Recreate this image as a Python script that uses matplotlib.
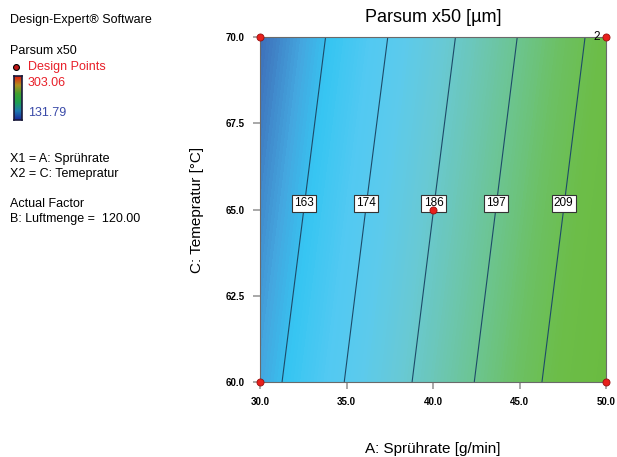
import numpy as np
import matplotlib
matplotlib.use("Agg")
import matplotlib.pyplot as plt
from matplotlib.colors import LinearSegmentedColormap

plt.rcParams["font.family"] = ["Liberation Sans", "DejaVu Sans"]

# Sprührate (x), Temperatur (y), Parsum x50 response
x_vals = [30.0, 35.0, 40.0, 45.0, 50.0]
y_vals = [60.0, 65.0, 70.0]
z_vals = [
    [159.1, 174.4, 189.7, 205.0, 220.4],   # 60 °C
    [155.2, 170.6, 185.9, 201.2, 216.5],   # 65 °C
    [151.4, 166.7, 182.0, 197.4, 212.7],   # 70 °C
]
levels = [163, 174, 186, 197, 209]
pts_x = [30, 30, 50, 50, 40]
pts_y = [60, 70, 60, 70, 65]
z_min, z_max = 131.79, 303.06

# colour stops (response -> colour)
stops = [(151, "#3d6bb6"), (159, "#44a6df"), (164, "#36c5f2"), (171, "#52c9f2"),
         (177, "#5ccaec"), (184, "#68c9d5"), (191, "#6cc6b2"), (198, "#6cc48c"),
         (205, "#6cc062"), (212, "#6cbd48"), (221, "#6abb40")]
lo, hi = stops[0][0], stops[-1][0]
cmap = LinearSegmentedColormap.from_list(
    "dx", [((v - lo) / (hi - lo), c) for v, c in stops])

fig = plt.figure(figsize=(6.17, 4.57), dpi=100)
ax = fig.add_axes([260 / 617, 1 - 382 / 457, 346 / 617, 345 / 457])

X, Y = np.meshgrid(x_vals, y_vals)
Z = np.array(z_vals)
ax.contourf(X, Y, Z, levels=np.linspace(lo, hi, 120), cmap=cmap, vmin=lo, vmax=hi)
cs = ax.contour(X, Y, Z, levels=levels, colors="#1d4a68", linewidths=0.8)
mid = Z[1]
manual = [(np.interp(l, mid, x_vals), y_vals[1]) for l in levels]
lbls = ax.clabel(cs, fmt="%d", fontsize=8.5, manual=manual, inline=False)
for t in lbls:
    t.set_rotation(0)
    t.set_bbox(dict(facecolor="white", edgecolor="#333333", lw=0.8, pad=1.6))
    t.set_va("bottom")
    t.set_color("black")
    t.set_zorder(4)

ax.scatter(pts_x, pts_y, s=26, color="#e8201c", edgecolor="#9a1010", lw=0.6,
           zorder=8, clip_on=False)
ax.text(50 - 0.35, 70, "2", ha="right", va="center", fontsize=8.5, zorder=6)

ax.set_xlim(30, 50)
ax.set_ylim(60, 70)
ax.set_xticks([30, 35, 40, 45, 50])
ax.set_yticks([60, 62.5, 65, 67.5, 70])
ax.set_xticklabels([f"{v:.1f}" for v in [30, 35, 40, 45, 50]])
ax.set_yticklabels([f"{v:.1f}" for v in [60, 62.5, 65, 67.5, 70]])
ax.tick_params(direction="out", length=5, width=1.2, color="#9a9a9a",
               labelsize=7, pad=6)
for lab in ax.get_xticklabels() + ax.get_yticklabels():
    lab.set_fontweight("bold")
for s in ax.spines.values():
    s.set_color("#6a6a6a")
    s.set_linewidth(0.8)

fig.text(433 / 617, 1 - 18 / 457, "Parsum x50 [µm]", ha="center", va="center",
         fontsize=13)
fig.text(433 / 617, 1 - 449 / 457, "A: Sprührate [g/min]", ha="center",
         va="center", fontsize=11)
fig.text(197 / 617, 1 - 210 / 457, "C: Temepratur [°C]", ha="center",
         va="center", fontsize=11, rotation=90)

# left side legend
def lt(y, s, x=10, color="black"):
    fig.text(x / 617, 1 - y / 457, s, ha="left", va="center", fontsize=9,
             color=color)

lt(20, "Design-Expert® Software")
lt(51, "Parsum x50")
lt(67, "Design Points", 28, "#e8202a")
lt(83, "303.06", 28, "#e8202a")
lt(113, "131.79", 28, "#3a4aa8")
lt(159, "X1 = A: Sprührate")
lt(174, "X2 = C: Temepratur")
lt(204, "Actual Factor")
lt(219, "B: Luftmenge =  120.00")

dot_ax = fig.add_axes([0, 0, 1, 1], facecolor="none")
dot_ax.set_xlim(0, 617)
dot_ax.set_ylim(457, 0)
dot_ax.axis("off")
dot_ax.scatter([16], [67], s=18, color="#c01818", edgecolor="black", lw=0.8)

cb_ax = fig.add_axes([14 / 617, 1 - 120 / 457, 8 / 617, 44 / 457])
bar_cm = LinearSegmentedColormap.from_list(
    "bar", ["#1a2a9a", "#1e7ab0", "#1ea050", "#40a030", "#b09020", "#e02010"])
cb_ax.imshow(np.linspace(z_min, z_max, 50)[:, None], aspect="auto",
             origin="lower", cmap=bar_cm)
cb_ax.set_xticks([])
cb_ax.set_yticks([])
for s in cb_ax.spines.values():
    s.set_color("#1a1a3a")
    s.set_linewidth(1.2)

fig.savefig("out.png", dpi=100)
